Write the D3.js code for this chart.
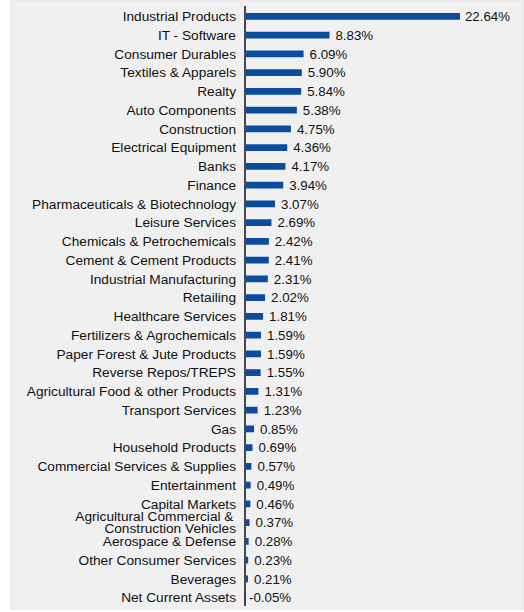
<!DOCTYPE html>
<html>
<head>
<meta charset="utf-8">
<script src="https://cdn.jsdelivr.net/npm/d3@7"></script>
<style>
  html, body { margin: 0; padding: 0; background: #ffffff; }
  svg { display: block; }
  text { font-family: "Liberation Sans", Arial, sans-serif; fill: #111; }
</style>
</head>
<body>
<svg id="chart" width="524" height="612"></svg>
<script>
// Sector allocation (% of net assets)
const sectors = [
  "Industrial Products", "IT - Software", "Consumer Durables", "Textiles & Apparels",
  "Realty", "Auto Components", "Construction", "Electrical Equipment", "Banks",
  "Finance", "Pharmaceuticals & Biotechnology", "Leisure Services",
  "Chemicals & Petrochemicals", "Cement & Cement Products", "Industrial Manufacturing",
  "Retailing", "Healthcare Services", "Fertilizers & Agrochemicals",
  "Paper Forest & Jute Products", "Reverse Repos/TREPS",
  "Agricultural Food & other Products", "Transport Services", "Gas",
  "Household Products", "Commercial Services & Supplies", "Entertainment",
  "Capital Markets", "Agricultural Commercial &\nConstruction Vehicles",
  "Aerospace & Defense", "Other Consumer Services", "Beverages", "Net Current Assets"
];
const weights = [
  22.64, 8.83, 6.09, 5.90, 5.84, 5.38, 4.75, 4.36, 4.17, 3.94, 3.07, 2.69,
  2.42, 2.41, 2.31, 2.02, 1.81, 1.59, 1.59, 1.55, 1.31, 1.23, 0.85, 0.69,
  0.57, 0.49, 0.46, 0.37, 0.28, 0.23, 0.21, -0.05
];
const data = sectors.map((s, i) => ({ sector: s, value: weights[i] }));

const svg = d3.select("#chart");
const FONT = '"Liberation Sans", Arial, sans-serif';

// plot panel
svg.append("rect")
  .attr("x", 11).attr("y", 0).attr("width", 513).attr("height", 609)
  .attr("fill", "#f0f0f0").attr("stroke", "#e2e2e2").attr("stroke-width", 1);

const x = d3.scaleLinear().domain([0, 22.64]).range([246, 460]);
const y = d3.scaleBand().domain(sectors).range([7, 607]).paddingInner(0.64).paddingOuter(0.32);

// bars
svg.append("g").selectAll("rect")
  .data(data)
  .join("rect")
  .attr("x", d => Math.min(x(0), x(d.value)))
  .attr("y", d => y(d.sector))
  .attr("width", d => Math.abs(x(d.value) - x(0)))
  .attr("height", y.bandwidth())
  .attr("fill", "#0b4c9c");

// category axis
const yAxis = d3.axisLeft(y).tickSize(0).tickPadding(0);
const gAxis = svg.append("g").attr("transform", "translate(245,0)").call(yAxis);
gAxis.select(".domain").remove();
gAxis.append("line")
  .attr("x1", 0).attr("x2", 0).attr("y1", 6).attr("y2", 606)
  .attr("stroke", "#111").attr("stroke-width", 1.5);
gAxis.selectAll(".tick text").each(function(d) {
  const t = d3.select(this);
  const lines = d.split("\n");
  t.text(null)
    .attr("x", -9)
    .attr("dy", null)
    .attr("text-anchor", "end")
    .style("font-size", "13.7px")
    .style("font-family", FONT)
    .attr("fill", "#111");
  const lh = 12;
  lines.forEach((ln, i) => {
    t.append("tspan")
      .attr("x", i === 0 && lines.length > 1 ? -11.5 : -9)
      .attr("y", (i - (lines.length - 1) / 2) * lh)
      .attr("dy", "0.35em")
      .text(ln);
  });
});

// value labels
const fmt = v => (v < 0 ? "-" : "") + d3.format(".2f")(Math.abs(v)) + "%";
svg.append("g").selectAll("text")
  .data(data)
  .join("text")
  .attr("y", d => y(d.sector) + y.bandwidth() / 2)
  .attr("dy", "0.35em")
  .style("font-size", "13.3px")
  .style("font-family", FONT)
  .text(d => fmt(d.value))
  .attr("x", function(d) {
    const start = (d.value < 0 ? x(0) + 3 : x(d.value) + 6);
    const w = this.getComputedTextLength();
    return Math.min(start, 510 - w);
  });
</script>
</body>
</html>
